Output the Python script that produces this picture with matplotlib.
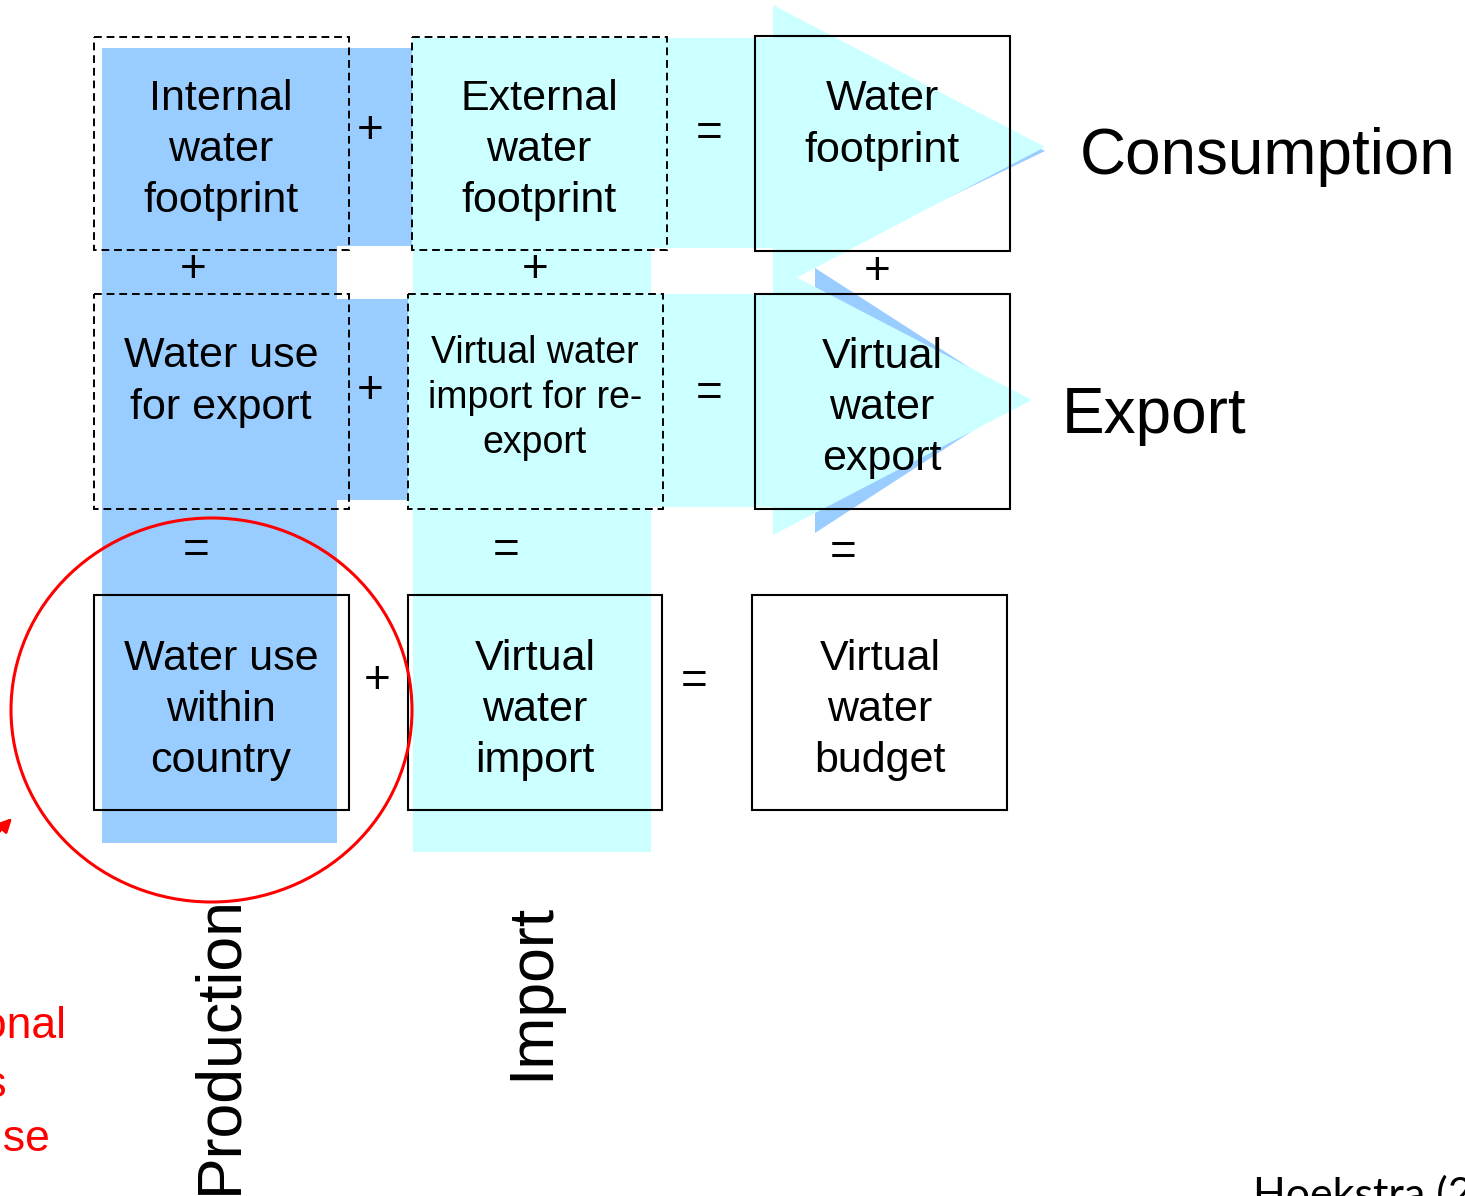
import matplotlib.pyplot as plt
from matplotlib.patches import Rectangle, Polygon, Ellipse

plt.rcParams['font.family'] = ['Liberation Sans', 'DejaVu Sans']

# ---- content ----
row1_labels = ["Internal\nwater\nfootprint", "External\nwater\nfootprint", "Water\nfootprint"]
row2_labels = ["Water use\nfor export", "Virtual water\nimport for re-\nexport", "Virtual\nwater\nexport"]
row3_labels = ["Water use\nwithin\ncountry", "Virtual\nwater\nimport", "Virtual\nwater\nbudget"]
operators = ["+", "=", "+", "+", "+", "+", "=", "=", "=", "=", "+", "="]
flow_labels = ["Consumption", "Export"]
column_labels = ["Production", "Import"]
note_lines = ["Traditional", "statistics", "water use"]
source = "Hoekstra (2008)"

# ---- layout (pixel space of the slide) ----
BLUE = '#99CCFF'
CYAN = '#CCFFFF'
blue_fills = [(102, 48, 337, 843), (337, 48, 412, 246), (337, 299, 408, 500)]
cyan_fills = [(413, 38, 651, 852), (412, 38, 775, 248), (408, 294, 775, 507)]
blue_tris = [[(815, 42), (1045, 151), (815, 262)], [(815, 268), (1020, 400), (815, 533)]]
cyan_tris = [[(773, 5), (1045, 147), (773, 290)], [(773, 265), (1032, 400), (773, 535)]]
dashed_boxes = [(94, 37, 349, 250), (412, 37, 667, 250), (94, 294, 349, 509), (408, 294, 663, 509)]
solid_boxes = [(755, 36, 1010, 251), (755, 294, 1010, 509), (94, 595, 349, 810),
               (408, 595, 662, 810), (752, 595, 1007, 810)]
label_pos = [[(221, 150), (539, 150), (882, 125)],
             [(221, 382), (535, 398), (882, 408)],
             [(221, 710), (535, 710), (880, 710)]]
op_pos = [(370, 131), (709, 134), (193, 270), (535, 270), (877, 272), (370, 391),
          (709, 394), (196, 551), (506, 551), (843, 553), (377, 681), (694, 682)]
note_pos = [(66, 1038), (7, 1097), (50, 1151)]

fig = plt.figure(figsize=(14.65, 11.96), dpi=100)
ax = fig.add_axes([0, 0, 1, 1])
ax.set_xlim(0, 1465)
ax.set_ylim(1196, 0)
ax.axis('off')

def rect(b, **kw):
    x0, y0, x1, y1 = b
    ax.add_patch(Rectangle((x0, y0), x1 - x0, y1 - y0, **kw))

for b in blue_fills:
    rect(b, fc=BLUE, ec='none', zorder=1)
for b in cyan_fills:
    rect(b, fc=CYAN, ec='none', zorder=1)

# export arrows (blue shadow under cyan)
for bt, ct in zip(blue_tris, cyan_tris):
    ax.add_patch(Polygon(bt, closed=True, fc=BLUE, ec='none', zorder=2))
    ax.add_patch(Polygon(ct, closed=True, fc=CYAN, ec='none', zorder=2))

for b in dashed_boxes:
    rect(b, fill=False, ec='black', lw=1.4, ls=(0, (4, 2.5)), zorder=3)
for b in solid_boxes:
    rect(b, fill=False, ec='black', lw=1.5, zorder=3)

rows = [row1_labels, row2_labels, row3_labels]
for r, labels in enumerate(rows):
    for c, lab in enumerate(labels):
        x, y = label_pos[r][c]
        if r == 1 and c == 1:
            ax.text(x, y, lab, ha='center', va='center', fontsize=27,
                    linespacing=1.33, zorder=4)
        else:
            ax.text(x, y, lab, ha='center', va='center', fontsize=31,
                    linespacing=1.36, zorder=4)

for s, (x, y) in zip(operators, op_pos):
    ax.text(x, y, s, ha='center', va='center', fontsize=33, zorder=4)

ax.text(1080, 157, flow_labels[0], ha='left', va='center', fontsize=46)
ax.text(1062, 416, flow_labels[1], ha='left', va='center', fontsize=46)

ax.text(220, 1194, column_labels[0], rotation=90, ha='center', va='bottom', fontsize=45)
ax.text(532, 1080, column_labels[1], rotation=90, ha='center', va='bottom', fontsize=45)

# red highlight
ax.add_patch(Ellipse((211.5, 710), 401, 384, fill=False, ec='red', lw=2.2, zorder=5))
ax.annotate('', xy=(14, 816), xytext=(-30, 862),
            arrowprops=dict(arrowstyle='-|>', color='red', lw=2.2, mutation_scale=20))
for line, (x, y) in zip(note_lines, note_pos):
    ax.text(x, y, line, ha='right', va='baseline', fontsize=32, color='red')

ax.text(1253, 1208, source, ha='left', va='baseline', fontsize=31, family=['Lato', 'DejaVu Sans'])

fig.savefig('out.png', dpi=100)
